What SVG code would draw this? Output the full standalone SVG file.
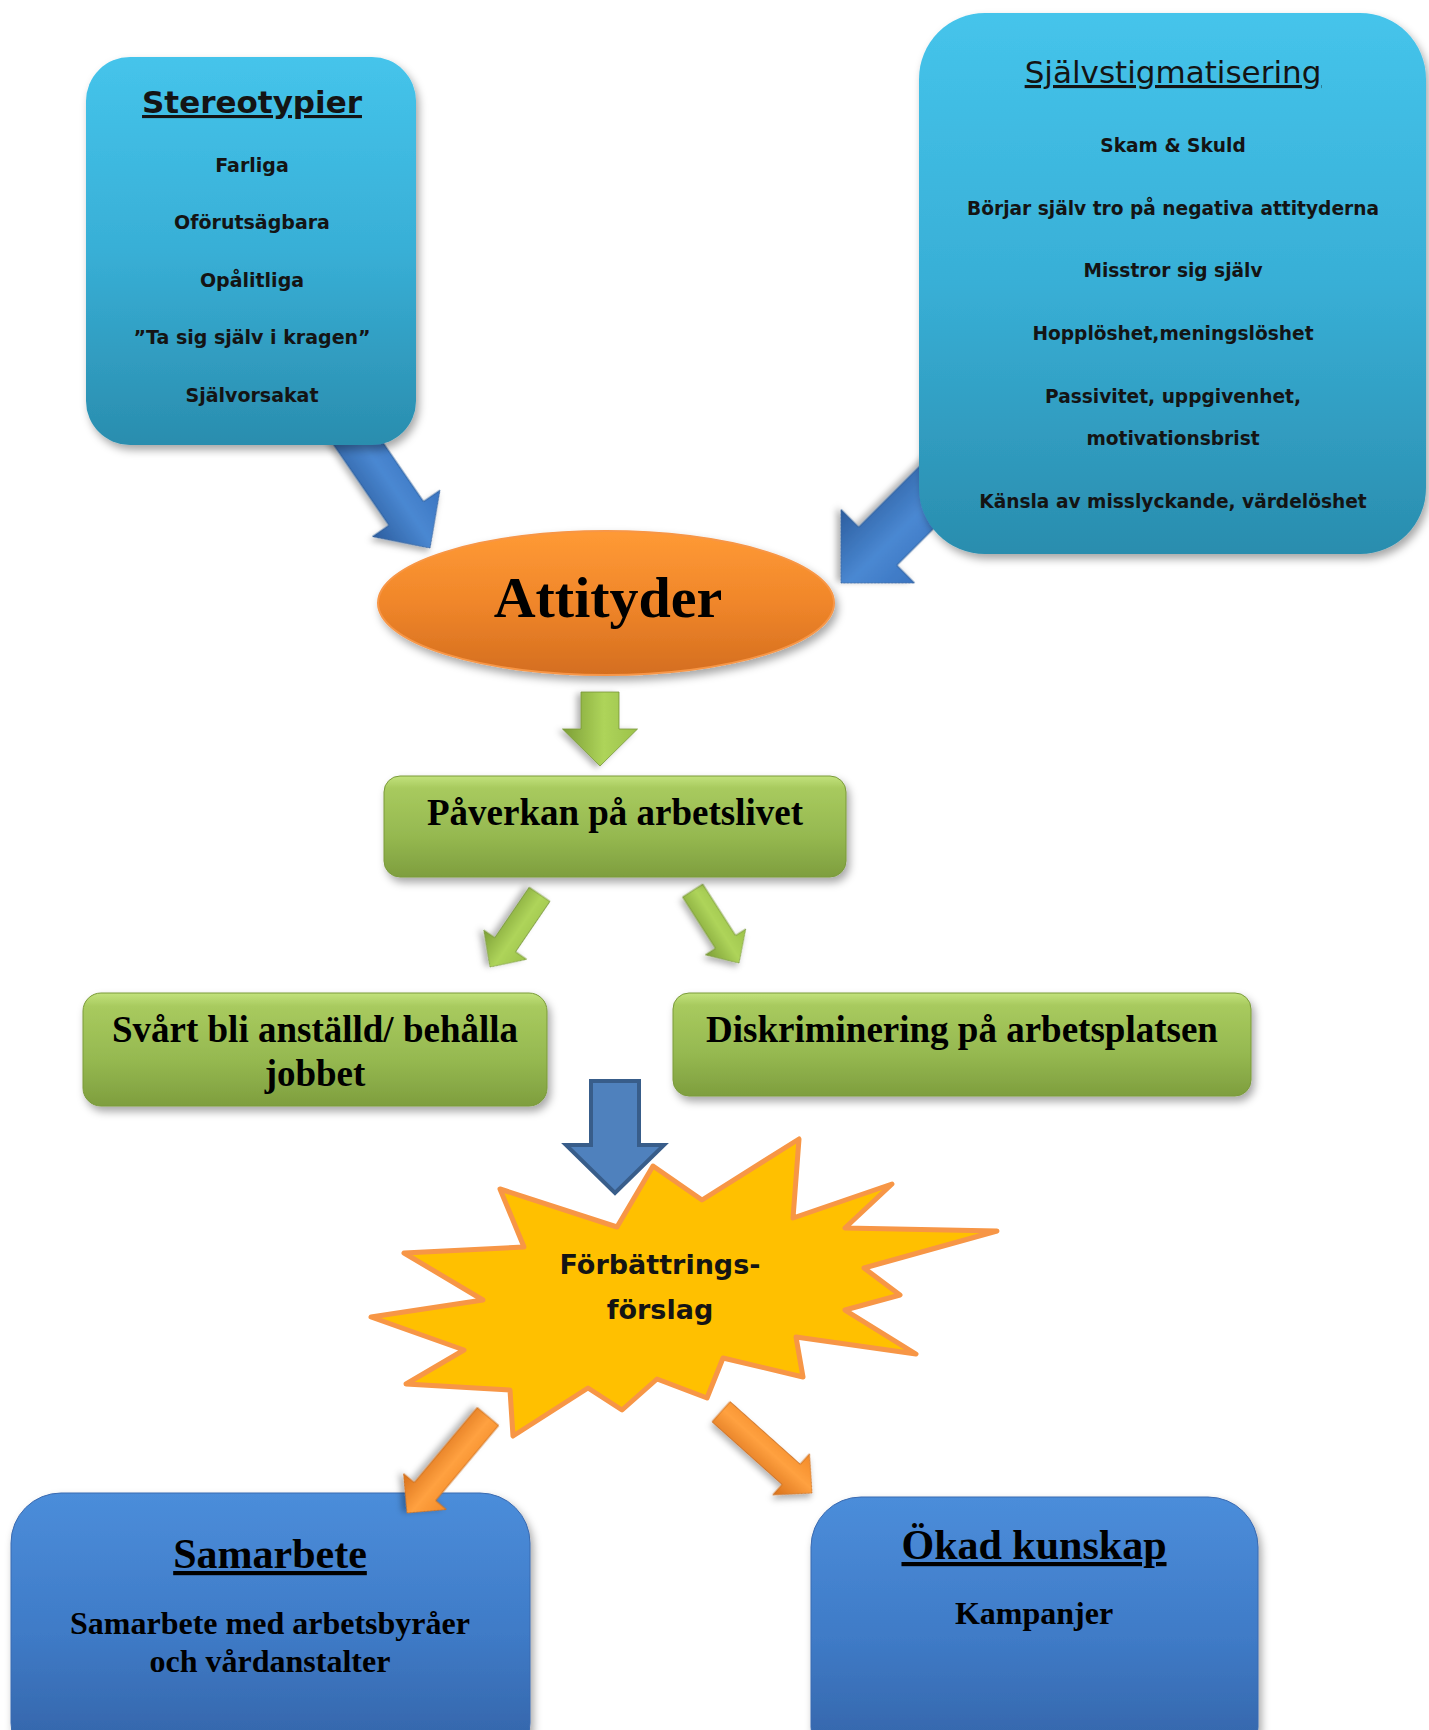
<svg xmlns="http://www.w3.org/2000/svg" width="1429" height="1730" viewBox="0 0 1429 1730">
<defs>
<style>
.cal{font-family:"DejaVu Sans","Noto Sans",sans-serif;font-weight:bold;fill:#141414;text-anchor:middle}
.calr{font-family:"DejaVu Sans","Noto Sans",sans-serif;font-weight:normal;fill:#141414;text-anchor:middle}
.tnr{font-family:"Liberation Serif","Times New Roman",serif;font-weight:bold;fill:#000;text-anchor:middle}
.ul{text-decoration:underline}
.cyan{fill:url(#gCyan);filter:url(#sh)}
.green{fill:url(#gGreen);stroke:#7A9A3A;stroke-width:1;filter:url(#sh)}
.blue{fill:url(#gBlue);stroke:#3A6AB0;stroke-width:1;filter:url(#sh)}
.arB{fill:url(#aBlue);stroke:#2A5896;stroke-width:0.8;filter:url(#sh2)}
.arG{fill:url(#aGreen);stroke:#76963A;stroke-width:0.8;filter:url(#sh2)}
.arO{fill:url(#aOrange);stroke:#C9691A;stroke-width:0.8;filter:url(#sh2)}
</style>
<filter id="sh" x="-10%" y="-10%" width="125%" height="130%">
<feDropShadow dx="3" dy="5" stdDeviation="4" flood-color="#000" flood-opacity="0.35"/>
</filter>
<filter id="sh2" x="-30%" y="-30%" width="160%" height="160%">
<feDropShadow dx="2" dy="4" stdDeviation="3" flood-color="#000" flood-opacity="0.3"/>
</filter>
<linearGradient id="gCyan" x1="0" y1="0" x2="0" y2="1">
<stop offset="0" stop-color="#45C4EB"/>
<stop offset="0.5" stop-color="#38AFD6"/>
<stop offset="1" stop-color="#2A8DAE"/>
</linearGradient>
<linearGradient id="gGreen" x1="0" y1="0" x2="0" y2="1">
<stop offset="0" stop-color="#C2E27C"/>
<stop offset="0.12" stop-color="#A8CA5E"/>
<stop offset="0.6" stop-color="#95B850"/>
<stop offset="1" stop-color="#7E9E3E"/>
</linearGradient>
<linearGradient id="gBlue" x1="0" y1="0" x2="0" y2="1">
<stop offset="0" stop-color="#4B8DDA"/>
<stop offset="0.5" stop-color="#3F7BC7"/>
<stop offset="1" stop-color="#3260A3"/>
</linearGradient>
<linearGradient id="gOrange" x1="0" y1="0" x2="0" y2="1">
<stop offset="0" stop-color="#FF9A35"/>
<stop offset="0.5" stop-color="#F0862A"/>
<stop offset="1" stop-color="#D46E1F"/>
</linearGradient>
<linearGradient id="aBlue" x1="0" y1="0" x2="0" y2="1">
<stop offset="0" stop-color="#3A74C0"/>
<stop offset="0.45" stop-color="#4A88D2"/>
<stop offset="1" stop-color="#2C5D9E"/>
</linearGradient>
<linearGradient id="aGreen" x1="0" y1="0" x2="0" y2="1">
<stop offset="0" stop-color="#9CC24A"/>
<stop offset="0.45" stop-color="#AED45A"/>
<stop offset="1" stop-color="#7C9E36"/>
</linearGradient>
<linearGradient id="aOrange" x1="0" y1="0" x2="0" y2="1">
<stop offset="0" stop-color="#F28A28"/>
<stop offset="0.45" stop-color="#FFA140"/>
<stop offset="1" stop-color="#D8701A"/>
</linearGradient>
</defs>
<rect width="1429" height="1730" fill="#FFFFFF"/>

<g id="samarbete">
<rect class="blue" x="11" y="1493" width="519" height="280" rx="50"/>
<text class="tnr ul" x="270" y="1568" font-size="42">Samarbete</text>
<text class="tnr" x="270" y="1634" font-size="32">Samarbete med arbetsbyråer</text>
<text class="tnr" x="270" y="1672" font-size="32">och vårdanstalter</text>
</g>

<g id="okad-kunskap">
<rect class="blue" x="811" y="1497" width="447" height="280" rx="50"/>
<text class="tnr ul" x="1034" y="1559" font-size="42">Ökad kunskap</text>
<text class="tnr" x="1034" y="1624" font-size="32">Kampanjer</text>
</g>

<g id="connectors">
<polygon class="arB" transform="translate(430,548) rotate(55.5)" points="-150,-21 -42,-21 -42,-41 0,0 -42,41 -42,21 -150,21"/>
<polygon class="arB" transform="translate(841,583) rotate(135)" points="-170,-27 -52,-27 -52,-52 0,0 -52,52 -52,27 -170,27"/>
<polygon class="arG" transform="translate(600,766) rotate(90)" points="-74,-19 -37,-19 -37,-37.5 0,0 -37,37.5 -37,19 -74,19"/>
<polygon class="arG" transform="translate(490,967) rotate(124.3)" points="-88,-12.5 -27,-12.5 -27,-26 0,0 -27,26 -27,12.5 -88,12.5"/>
<polygon class="arG" transform="translate(739,963) rotate(57.4)" points="-86,-12 -25,-12 -25,-24 0,0 -25,24 -25,12 -86,12"/>
<polygon fill="#4F81BD" stroke="#385D8A" stroke-width="4" stroke-linejoin="miter" points="591,1081 639,1081 639,1145 664,1145 615,1193 566,1145 591,1145"/>
<polygon class="arO" transform="translate(407,1513) rotate(130)" points="-126,-14 -28,-14 -28,-28 0,0 -28,28 -28,14 -126,14"/>
<polygon class="arO" transform="translate(812,1493) rotate(41.8)" points="-122,-13.5 -28,-13.5 -28,-27.5 0,0 -28,27.5 -28,13.5 -122,13.5"/>
</g>

<g id="stereotypier">
<rect class="cyan" x="86" y="57" width="330" height="388" rx="44"/>
<text class="cal ul" x="252" y="113" font-size="31">Stereotypier</text>
<text class="cal" x="252" y="172" font-size="19">Farliga</text>
<text class="cal" x="252" y="229" font-size="19">Oförutsägbara</text>
<text class="cal" x="252" y="287" font-size="19">Opålitliga</text>
<text class="cal" x="252" y="344" font-size="19">”Ta sig själv i kragen”</text>
<text class="cal" x="252" y="402" font-size="19">Självorsakat</text>
</g>

<g id="sjalvstigmatisering">
<rect class="cyan" x="919" y="13" width="507" height="541" rx="66"/>
<text class="calr ul" x="1173" y="83" font-size="31">Självstigmatisering</text>
<text class="cal" x="1173" y="152" font-size="18.6">Skam &amp; Skuld</text>
<text class="cal" x="1173" y="215" font-size="18.6">Börjar själv tro på negativa attityderna</text>
<text class="cal" x="1173" y="277" font-size="18.6">Misstror sig själv</text>
<text class="cal" x="1173" y="340" font-size="18.6">Hopplöshet,meningslöshet</text>
<text class="cal" x="1173" y="403" font-size="18.6">Passivitet, uppgivenhet,</text>
<text class="cal" x="1173" y="445" font-size="18.6">motivationsbrist</text>
<text class="cal" x="1173" y="508" font-size="18.6">Känsla av misslyckande, värdelöshet</text>
</g>

<g id="attityder">
<ellipse cx="606" cy="603" rx="228" ry="72" fill="url(#gOrange)" stroke="#F79646" stroke-width="2" filter="url(#sh)"/>
<text class="tnr" x="608" y="617" font-size="58">Attityder</text>
</g>

<g id="paverkan">
<rect class="green" x="384" y="776" width="462" height="101" rx="16"/>
<text class="tnr" x="615" y="825" font-size="37">Påverkan på arbetslivet</text>
</g>

<g id="svart-anstalld">
<rect class="green" x="83" y="993" width="464" height="113" rx="18"/>
<text class="tnr" x="315" y="1042" font-size="37">Svårt bli anställd/ behålla</text>
<text class="tnr" x="315" y="1086" font-size="37">jobbet</text>
</g>

<g id="diskriminering">
<rect class="green" x="673" y="993" width="578" height="103" rx="16"/>
<text class="tnr" x="962" y="1042" font-size="37">Diskriminering på arbetsplatsen</text>
</g>

<g id="forbattringsforslag">
<polygon fill="#FFC000" stroke="#F79646" stroke-width="5" stroke-linejoin="round" points="799,1139 793,1218 892,1184 845,1228 997,1231 864,1268 900,1295 845,1310 916,1354 796,1337 803,1377 723,1358 707,1398 657,1379 622,1410 588,1388 513,1436 510,1390 406,1384 464,1350 371,1317 483,1300 404,1253 524,1247 500,1189 617,1227 653,1166 702,1200"/>
<text class="cal" x="660" y="1274" font-size="27">Förbättrings-</text>
<text class="cal" x="660" y="1319" font-size="27">förslag</text>
</g>
</svg>
